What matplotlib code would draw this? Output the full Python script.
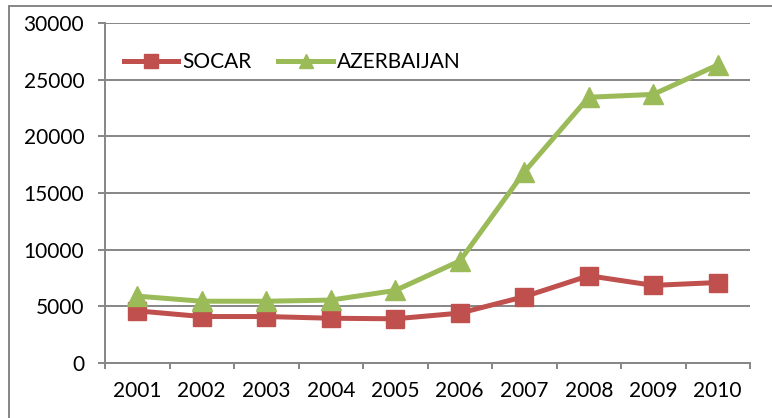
import matplotlib.pyplot as plt
import numpy as np
from matplotlib.lines import Line2D

years = ["2001", "2002", "2003", "2004", "2005", "2006", "2007", "2008", "2009", "2010"]
socar = [4600, 4100, 4100, 3950, 3900, 4400, 5850, 7700, 6850, 7100]
azerbaijan = [5900, 5450, 5450, 5550, 6400, 9000, 16850, 23450, 23700, 26300]

red = "#C0504D"
green = "#9BBB59"
grid_col = "#868686"

plt.rcParams["font.family"] = ["Lato", "DejaVu Sans"]
plt.rcParams["font.size"] = 15

fig = plt.figure(figsize=(7.72, 4.18), dpi=100)
ax = fig.add_axes([105 / 772, 1 - 363 / 418, (750 - 105) / 772, (363 - 23) / 418])

x = np.arange(len(years))
ax.plot(x, socar, color=red, lw=3.6, marker="s", ms=13, zorder=3)
ax.plot(x, azerbaijan, color=green, lw=3.6, marker="^", ms=15, zorder=3)

ax.set_xlim(-0.5, len(years) - 0.5)
ax.set_ylim(0, 30000)
ax.set_yticks(range(0, 30001, 5000))
ax.yaxis.grid(True, color=grid_col, lw=1.4)
ax.set_axisbelow(True)

ax.set_xticks(x)
ax.set_xticklabels(years)
ax.tick_params(axis="x", length=0, pad=13)
ax.set_xticks(np.arange(-0.5, len(years)), minor=True)
ax.tick_params(axis="x", which="minor", length=4.5, width=1.4, color=grid_col)
ax.tick_params(axis="y", length=5, width=1.4, color=grid_col, pad=10)

for s in ["top", "right"]:
    ax.spines[s].set_visible(False)
for s in ["left", "bottom"]:
    ax.spines[s].set_color(grid_col)
    ax.spines[s].set_linewidth(1.4)

handles = [
    Line2D([], [], color=red, lw=3.6, marker="s", ms=10),
    Line2D([], [], color=green, lw=3.6, marker="^", ms=10),
]
ax.legend(handles, ["SOCAR", "AZERBAIJAN"], loc="center left", ncol=2,
          bbox_to_anchor=(0.0, 0.885), frameon=False, handlelength=2.6,
          handletextpad=0.2, columnspacing=1.3, fontsize=15)

# outer chart frame
fig.add_artist(plt.Rectangle((9 / 772, -0.05), 1.1, 1 - 6 / 418 + 0.05,
                             transform=fig.transFigure, fill=False,
                             ec=grid_col, lw=1.4))

fig.savefig("out.png", dpi=100)
